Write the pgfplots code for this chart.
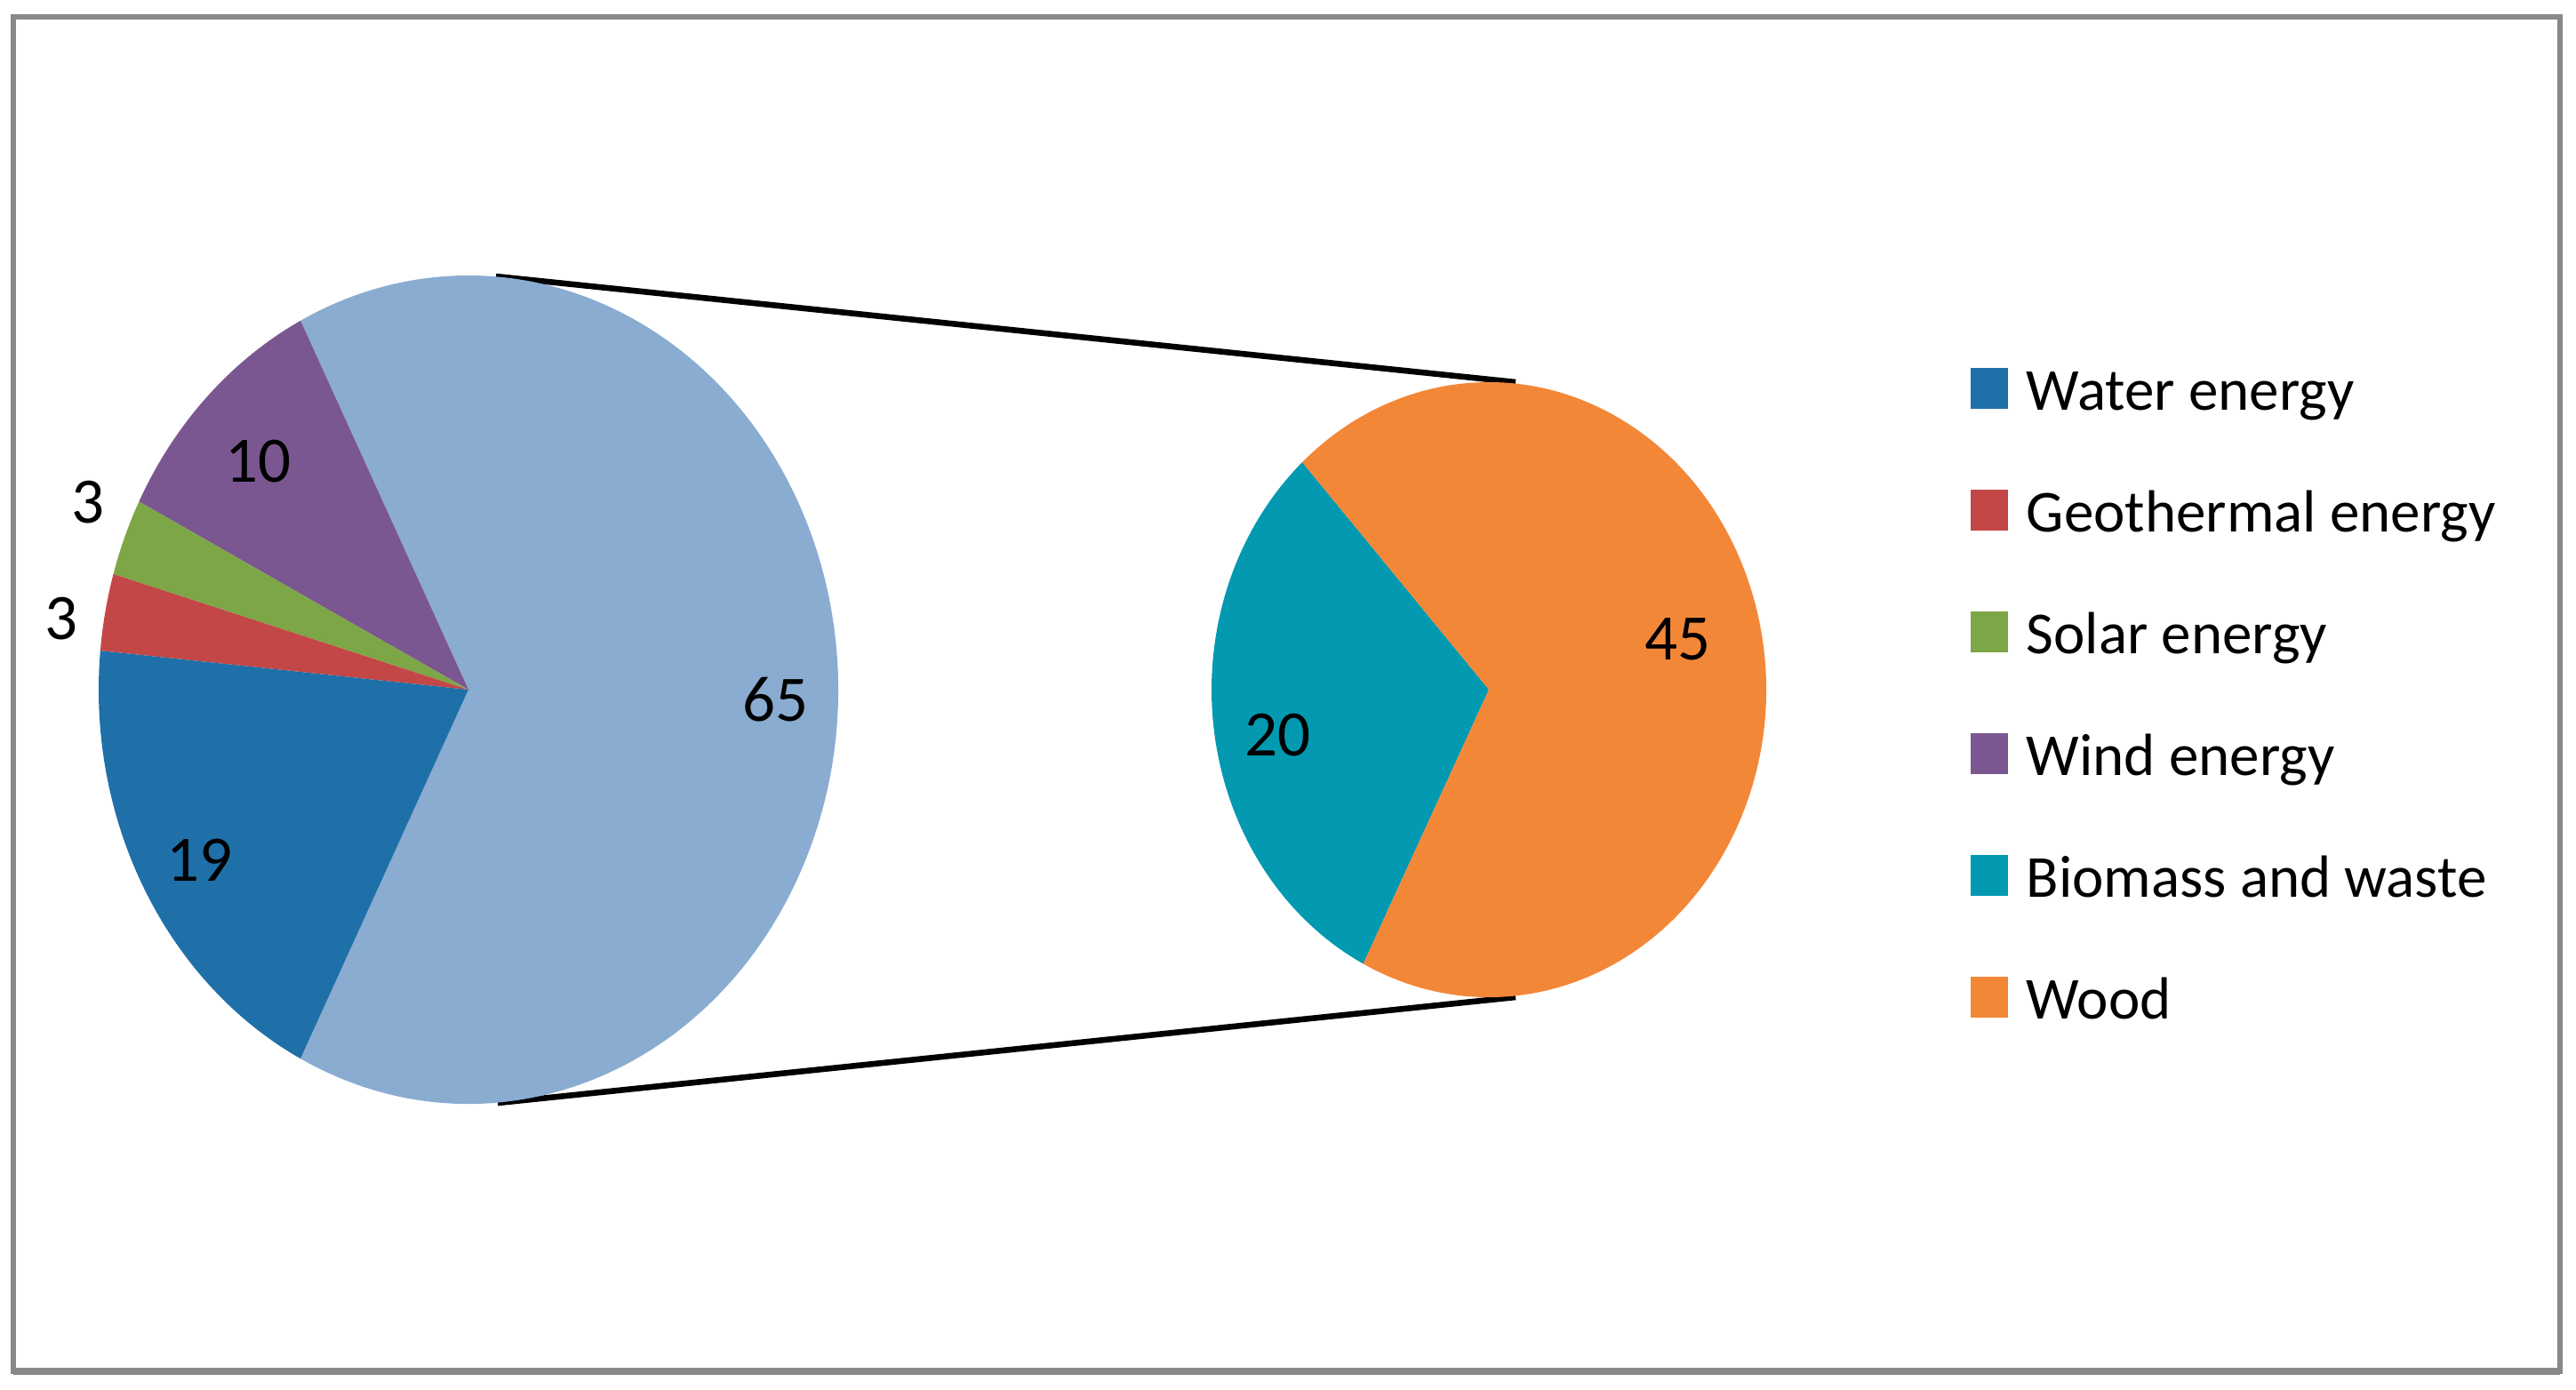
\documentclass[border=0pt]{standalone}
\usepackage{pgfplots}
\pgfplotsset{compat=1.18}
\usepackage{fontspec}
\setmainfont{Carlito}
\definecolor{cWater}{HTML}{1F70A8}
\definecolor{cGeo}{HTML}{C34746}
\definecolor{cSolar}{HTML}{7DA646}
\definecolor{cWind}{HTML}{7B5791}
\definecolor{cBio}{HTML}{0299B1}
\definecolor{cWood}{HTML}{F38738}
\definecolor{cOther}{HTML}{8AACD1}
\definecolor{cFrame}{HTML}{898989}
% data (percent)
\def\vWater{19}
\def\vGeo{3}
\def\vSolar{3}
\def\vWind{10}
\def\vBio{20}
\def\vWood{45}
\begin{document}
\begin{tikzpicture}
\pgfmathsetmacro\other{\vBio+\vWood}
\pgfmathsetmacro\total{\vWater+\vGeo+\vSolar+\vWind+\other}
\pgfmathsetmacro\aA{-\other/\total*180}
\pgfmathsetmacro\aB{\other/\total*180}
\pgfmathsetmacro\aC{\aB+\vWind/\total*360}
\pgfmathsetmacro\aD{\aC+\vSolar/\total*360}
\pgfmathsetmacro\aE{\aD+\vGeo/\total*360}
\pgfmathsetmacro\aF{\aE+\vWater/\total*360}
\pgfmathsetmacro\bA{132.3}
\pgfmathsetmacro\bB{\bA+\vBio/\other*360}
\pgfmathsetmacro\bC{\bA+360}
\newcommand\lwedge[3]{\fill[#1] (axis cs:527,787) -- ++(#2:104pt and 116.5pt) arc[start angle=#2, end angle=#3, x radius=104pt, y radius=116.5pt] -- cycle;}
\newcommand\rwedge[3]{\fill[#1] (axis cs:1675,787) -- ++(#2:78pt and 86.5pt) arc[start angle=#2, end angle=#3, x radius=78pt, y radius=86.5pt] -- cycle;}
\begin{axis}[x=0.25pt, y=0.25pt, xmin=0, xmax=2898, ymin=0, ymax=1563,
  hide axis, clip=false]
\path (axis cs:0,0) rectangle (axis cs:2898,1563);
% frame
\draw[cFrame, line width=1.4pt] (axis cs:15,20) rectangle (axis cs:2880,1544);
\draw[cFrame, line width=1.8pt] (axis cs:15,20) -- (axis cs:2880,20);
% connector lines
\draw[black, line width=1.65pt] (axis cs:558,1252) -- (axis cs:1705,1133);
\draw[black, line width=1.65pt] (axis cs:560,322) -- (axis cs:1705,441);
% left pie
\lwedge{cOther}{\aA}{\aB}
\lwedge{cWind}{\aB}{\aC}
\lwedge{cSolar}{\aC}{\aD}
\lwedge{cGeo}{\aD}{\aE}
\lwedge{cWater}{\aE}{\aF}
% right pie
\rwedge{cBio}{\bA}{\bB}
\rwedge{cWood}{\bB}{\bC}
% data labels
\begin{scope}[every node/.style={font=\fontsize{18.25}{22}\selectfont, inner sep=0pt}]
\node at (axis cs:290,1044) {\vWind};
\node at (axis cs:99,998) {\vSolar};
\node at (axis cs:69,867) {\vGeo};
\node at (axis cs:872,776) {65};
\node at (axis cs:224,595) {\vWater};
\node at (axis cs:1437,736) {\vBio};
\node at (axis cs:1887,844) {\vWood};
\end{scope}
% legend
\begin{scope}[every node/.style={font=\fontsize{16.75}{20}\selectfont, inner sep=0pt, anchor=base west}]
\fill[cWater] (axis cs:2217,1103) rectangle (axis cs:2259,1149);
\node at (axis cs:2279,1101) {Water energy};
\fill[cGeo] (axis cs:2217,966) rectangle (axis cs:2259,1012);
\node at (axis cs:2279,964) {Geothermal energy};
\fill[cSolar] (axis cs:2217,829) rectangle (axis cs:2259,875);
\node at (axis cs:2279,827) {Solar energy};
\fill[cWind] (axis cs:2217,692) rectangle (axis cs:2259,738);
\node at (axis cs:2279,690) {Wind energy};
\fill[cBio] (axis cs:2217,555) rectangle (axis cs:2259,601);
\node at (axis cs:2279,553) {Biomass and waste};
\fill[cWood] (axis cs:2217,418) rectangle (axis cs:2259,464);
\node at (axis cs:2279,416) {Wood};
\end{scope}
\end{axis}
\end{tikzpicture}
\end{document}
